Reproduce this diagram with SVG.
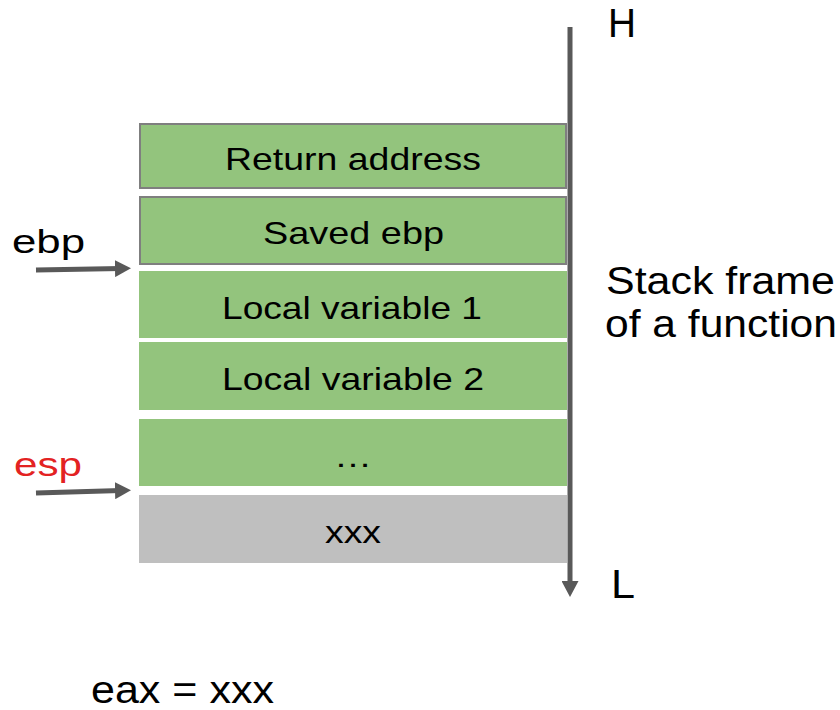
<svg xmlns="http://www.w3.org/2000/svg" width="840" height="710" viewBox="0 0 840 710">
<style>
  text { font-family: "Liberation Sans", Arial, sans-serif; fill: #000; }
  .box { font-size: 32px; }
  .reg { font-size: 34px; }
  .side { font-size: 38px; }
  .hl { font-size: 40px; }
  .green { fill: #93C47D; }
  .framed { stroke: #7F7F7F; stroke-width: 2; }
  .conn { stroke: #595959; stroke-width: 5; fill: none; }
</style>
<defs>
  <marker id="head" viewBox="0 0 16 17" refX="6" refY="8.5" markerWidth="16" markerHeight="17" markerUnits="userSpaceOnUse" orient="auto">
    <path d="M0,0 L16,8.5 L0,17 z" fill="#595959"/>
  </marker>
</defs>
<rect width="840" height="710" fill="#fff"/>

<g id="connectors">
  <line class="conn" x1="570" y1="27" x2="570" y2="587" marker-end="url(#head)"/>
  <line class="conn" x1="36" y1="270" x2="121" y2="268.5" marker-end="url(#head)"/>
  <line class="conn" x1="36" y1="493" x2="121" y2="490.5" marker-end="url(#head)"/>
</g>

<g id="return-address">
  <rect class="green framed" x="140" y="124" width="426" height="64"/>
  <text class="box" x="225" y="170" textLength="256" lengthAdjust="spacingAndGlyphs">Return address</text>
</g>
<g id="saved-ebp">
  <rect class="green framed" x="140" y="197" width="426" height="67"/>
  <text class="box" x="263" y="244" textLength="181" lengthAdjust="spacingAndGlyphs">Saved ebp</text>
</g>
<g id="local-variable-1">
  <rect class="green" x="139" y="271" width="428" height="67"/>
  <text class="box" x="222" y="319" textLength="260" lengthAdjust="spacingAndGlyphs">Local variable 1</text>
</g>
<g id="local-variable-2">
  <rect class="green" x="139" y="342" width="428" height="68"/>
  <text class="box" x="222" y="390" textLength="262" lengthAdjust="spacingAndGlyphs">Local variable 2</text>
</g>
<g id="ellipsis">
  <rect class="green" x="139" y="419" width="428" height="67"/>
  <text class="box" x="334" y="467" textLength="38" lengthAdjust="spacingAndGlyphs">…</text>
</g>
<g id="xxx">
  <rect x="139" y="495" width="428" height="68" fill="#BFBFBF"/>
  <text class="box" x="325" y="543" textLength="56" lengthAdjust="spacingAndGlyphs">xxx</text>
</g>

<g id="ebp-label">
  <text class="reg" x="12" y="253" textLength="73" lengthAdjust="spacingAndGlyphs">ebp</text>
</g>
<g id="esp-label">
  <text class="reg" x="14" y="476" textLength="68" lengthAdjust="spacingAndGlyphs" style="fill:#E32222">esp</text>
</g>
<g id="high-label">
  <text class="hl" x="608" y="37" textLength="28" lengthAdjust="spacingAndGlyphs">H</text>
</g>
<g id="low-label">
  <text class="hl" x="611" y="598" textLength="24" lengthAdjust="spacingAndGlyphs">L</text>
</g>
<g id="frame-label">
  <text class="side" x="606" y="294" textLength="229" lengthAdjust="spacingAndGlyphs">Stack frame</text>
  <text class="side" x="605" y="337" textLength="232" lengthAdjust="spacingAndGlyphs">of a function</text>
</g>
<g id="eax-label">
  <text class="side" x="91" y="703" textLength="183" lengthAdjust="spacingAndGlyphs">eax = xxx</text>
</g>
</svg>
